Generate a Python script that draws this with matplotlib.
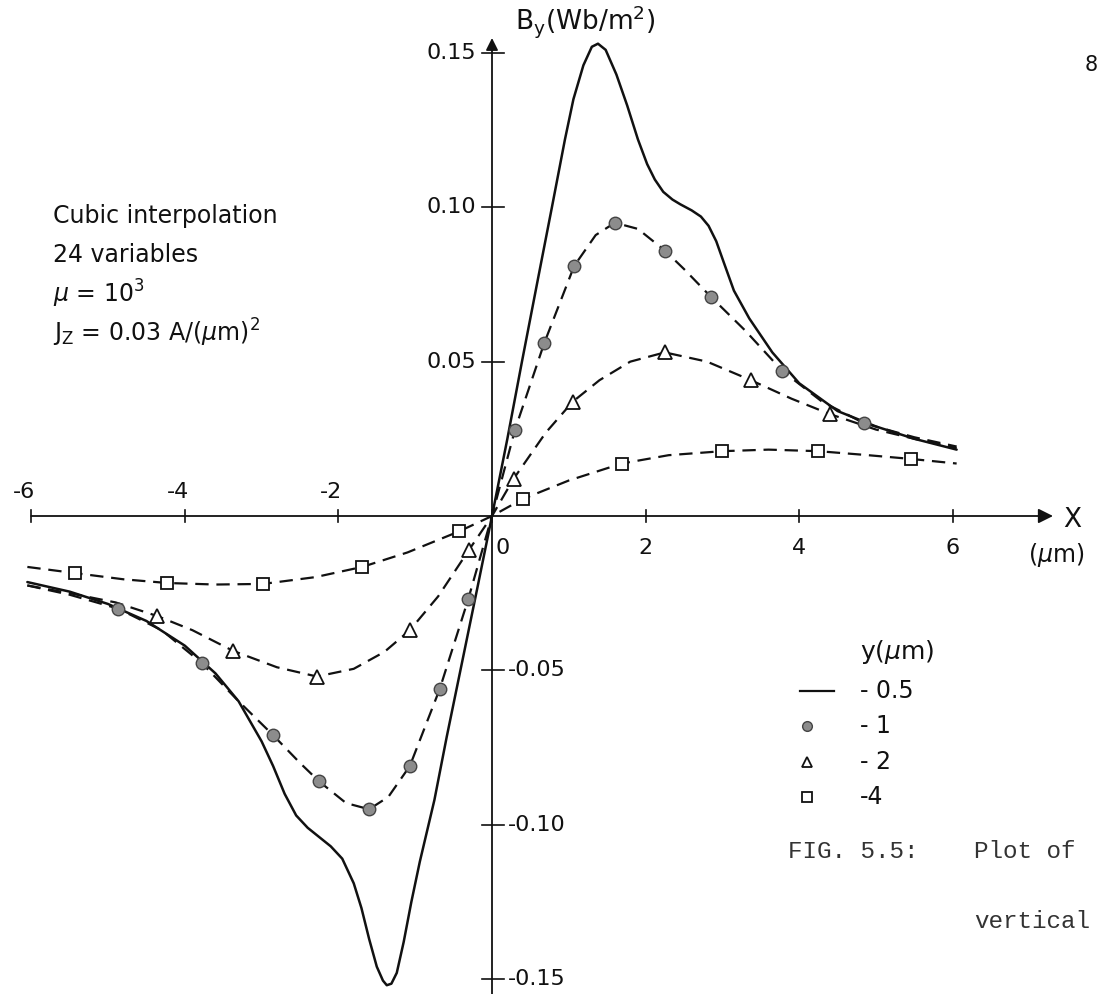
import matplotlib
matplotlib.use("Agg")
import matplotlib.pyplot as plt
import numpy as np

# ---------------- data ----------------
# y = -0.5 um (solid line)
x_05 = [-6.05, -5.5, -5.0, -4.5, -4.0, -3.6, -3.3, -3.0, -2.85, -2.7, -2.55, -2.4, -2.25, -2.1,
        -1.95, -1.8, -1.7, -1.6, -1.5, -1.42, -1.37, -1.31, -1.24, -1.15, -1.05, -0.94, -0.75,
        -0.59, -0.37, -0.18, 0.0,
        0.2, 0.39, 0.6, 0.78, 0.95, 1.06, 1.19, 1.3, 1.38, 1.48, 1.62, 1.76, 1.9, 2.02, 2.12,
        2.23, 2.35, 2.45, 2.6, 2.72, 2.82, 2.92, 3.02, 3.15, 3.35, 3.65, 4.0, 4.5, 5.0, 5.5,
        6.05]
b_05 = [-0.0214, -0.0245, -0.0285, -0.034, -0.042, -0.051, -0.060, -0.073, -0.081, -0.090,
        -0.097, -0.101, -0.104, -0.107, -0.111, -0.119, -0.127, -0.137, -0.146, -0.1505,
        -0.152, -0.1515, -0.148, -0.138, -0.125, -0.112, -0.092,
        -0.0716, -0.045, -0.022, 0.0,
        0.025, 0.05, 0.077, 0.100, 0.122, 0.135, 0.146, 0.152, 0.153, 0.151, 0.143, 0.133,
        0.122, 0.114, 0.109, 0.105, 0.1025, 0.101, 0.099, 0.097, 0.094, 0.089, 0.082, 0.073,
        0.064, 0.053, 0.043, 0.034, 0.029, 0.025, 0.0215]

# y = -1 um (dashed, filled circles)
x_1 = [-6.05, -5.5, -4.87, -4.3, -3.78, -3.3, -2.85, -2.5, -2.25, -1.9, -1.6, -1.35, -1.07,
       -0.68, -0.31, 0.0, 0.30, 0.68, 1.07, 1.35, 1.6, 1.9, 2.25, 2.5, 2.85, 3.3, 3.78, 4.3,
       4.85, 5.5, 6.05]
b_1 = [-0.0225, -0.0255, -0.030, -0.037, -0.0476, -0.060, -0.071, -0.080, -0.086, -0.093,
       -0.095, -0.091, -0.081, -0.056, -0.027, 0.0, 0.028, 0.056, 0.081, 0.091, 0.095, 0.093,
       0.086, 0.080, 0.071, 0.060, 0.047, 0.037, 0.030, 0.0255, 0.0225]
mx_1 = [-4.87, -3.78, -2.85, -2.25, -1.6, -1.07, -0.68, -0.31,
        0.30, 0.68, 1.07, 1.6, 2.25, 2.85, 3.78, 4.85]
mb_1 = [-0.030, -0.0476, -0.071, -0.086, -0.095, -0.081, -0.056, -0.027,
        0.028, 0.056, 0.081, 0.095, 0.086, 0.071, 0.047, 0.030]

# y = -2 um (dashed, open triangles)
x_2 = [-6.05, -5.5, -4.9, -4.36, -3.9, -3.37, -2.8, -2.28, -1.8, -1.4, -1.07, -0.7, -0.30, 0.0,
       0.28, 0.7, 1.05, 1.4, 1.8, 2.25, 2.8, 3.37, 3.9, 4.4, 5.0, 5.5, 6.05]
b_2 = [-0.0225, -0.025, -0.028, -0.0324, -0.037, -0.0437, -0.049, -0.052, -0.0495, -0.044,
       -0.037, -0.026, -0.011, 0.0, 0.012, 0.027, 0.037, 0.044, 0.050, 0.053, 0.050, 0.044,
       0.038, 0.033, 0.028, 0.025, 0.022]
mx_2 = [-4.36, -3.37, -2.28, -1.07, -0.30, 0.28, 1.05, 2.25, 3.37, 4.4]
mb_2 = [-0.0324, -0.0437, -0.052, -0.037, -0.011, 0.012, 0.037, 0.053, 0.044, 0.033]

# y = -4 um (dashed, open squares)
x_4 = [-6.05, -5.43, -4.8, -4.23, -3.6, -2.98, -2.3, -1.69, -1.1, -0.43, 0.0,
       0.40, 1.0, 1.69, 2.3, 3.0, 3.6, 4.25, 4.85, 5.45, 6.05]
b_4 = [-0.0165, -0.0185, -0.0205, -0.0217, -0.0222, -0.022, -0.0198, -0.0165, -0.0118, -0.005,
       0.0, 0.0055, 0.0115, 0.017, 0.0197, 0.021, 0.0215, 0.021, 0.0198, 0.0185, 0.017]
mx_4 = [-5.43, -4.23, -2.98, -1.69, -0.43, 0.40, 1.69, 3.0, 4.25, 5.45]
mb_4 = [-0.0185, -0.0217, -0.022, -0.0165, -0.005, 0.0055, 0.017, 0.021, 0.021, 0.0185]

xticks = [-6, -4, -2, 0, 2, 4, 6]
yticks = [0.15, 0.10, 0.05, -0.05, -0.10, -0.15]
ytick_labels = ["0.15", "0.10", "0.05", "-0.05", "-0.10", "-0.15"]
legend_title = r"y($\mu$m)"
legend_labels = ["- 0.5", "- 1", "- 2", "-4"]

# ---------------- layout ----------------
W, H = 1100, 994
X0, SX = 492.0, 76.8      # pixel of x=0, pixels per unit
Y0, SY = 516.0, 3087.0    # pixel (from top) of B=0, pixels per unit

fig = plt.figure(figsize=(W / 100, H / 100), dpi=100)
ax = fig.add_axes([0, 0, 1, 1])
ax.set_xlim(-X0 / SX, (W - X0) / SX)
ax.set_ylim(-(H - Y0) / SY, Y0 / SY)
ax.axis("off")

def px(xp):
    return (xp - X0) / SX

def py(yp):
    return (Y0 - yp) / SY

sans = ["DejaVu Sans"]
ink = "#111111"
dash = (6, 3.5)

# axes
ax.annotate("", xy=(px(1053), 0), xytext=(-6.0, 0),
            arrowprops=dict(arrowstyle="-|>", lw=1.3, color=ink, mutation_scale=22,
                            shrinkA=0, shrinkB=0))
ax.annotate("", xy=(0, py(38)), xytext=(0, py(H + 5)),
            arrowprops=dict(arrowstyle="-|>", lw=1.3, color=ink, mutation_scale=18,
                            shrinkA=0, shrinkB=0))

for xt in xticks:
    ax.plot([xt, xt], [py(Y0 - 6), py(Y0 + 6)], color=ink, lw=1.2)
    if xt < 0:
        ax.text(xt - px(X0 + 7), py(492), f"-{abs(xt)}", ha="center", va="center",
                fontsize=16, family=sans, color=ink)
    else:
        ax.text(xt + (px(X0 + 11) if xt == 0 else 0), py(548), f"{xt}", ha="center",
                va="center", fontsize=16, family=sans, color=ink)

for yt, lab in zip(yticks, ytick_labels):
    ax.plot([px(X0 - 10), px(X0 + 12)], [yt, yt], color=ink, lw=1.2)
    if yt > 0:
        ax.text(px(X0 - 16), yt, lab, ha="right", va="center",
                fontsize=16, family=sans, color=ink)
    else:
        ax.text(px(X0 + 16), yt, lab, ha="left", va="center",
                fontsize=16, family=sans, color=ink)

# curves
ax.plot(x_05, b_05, color=ink, lw=1.8, solid_capstyle="round", solid_joinstyle="round")
for xs, bs in [(x_1, b_1), (x_2, b_2), (x_4, b_4)]:
    ax.plot(xs, bs, color=ink, lw=1.6, linestyle=(0, dash))

ax.plot(mx_1, mb_1, linestyle="none", marker="o", ms=9, mfc="#8c8c8c", mec="#444444", mew=1.0)
ax.plot(mx_2, mb_2, linestyle="none", marker="^", ms=10, mfc="white", mec=ink, mew=1.3)
ax.plot(mx_4, mb_4, linestyle="none", marker="s", ms=9, mfc="white", mec=ink, mew=1.3)

# axis labels
ax.text(px(515), py(22), r"B$_\mathregular{y}$(Wb/m$^\mathregular{2}$)", ha="left", va="center",
        fontsize=19, family=sans, color=ink)
ax.text(px(1063), py(520), "X", ha="left", va="center", fontsize=19, family=sans, color=ink)
ax.text(px(1028), py(555), r"($\mu$m)", ha="left", va="center", fontsize=17, family=sans,
        color=ink)

# annotation block
notes = ["Cubic interpolation", "24 variables", r"$\mu$ = 10$^\mathregular{3}$",
         r"J$_\mathregular{Z}$ = 0.03 A/($\mu$m)$^\mathregular{2}$"]
for i, t in enumerate(notes):
    ax.text(px(53), py(216 + 39 * i), t, ha="left", va="center", fontsize=17, family=sans,
            color=ink)

# legend
ax.text(px(860), py(652), legend_title, ha="left", va="center", fontsize=18, family=sans,
        color=ink)
ly = [691, 726, 762, 797]
ax.plot([px(800), px(834)], [py(ly[0]), py(ly[0])], color=ink, lw=1.6)
ax.plot([px(807)], [py(ly[1])], marker="o", ms=7, mfc="#8c8c8c", mec="#444444", mew=1.0)
ax.plot([px(807)], [py(ly[2])], marker="^", ms=7, mfc="white", mec=ink, mew=1.3)
ax.plot([px(807)], [py(ly[3])], marker="s", ms=6.5, mfc="white", mec=ink, mew=1.3)
for yy, lab in zip(ly, legend_labels):
    ax.text(px(860), py(yy), lab, ha="left", va="center", fontsize=17, family=sans, color=ink)

# caption
mono = ["Liberation Mono"]
ax.text(px(788), py(852), "FIG. 5.5:", ha="left", va="center", fontsize=17.5, family=mono,
        color="#333333")
ax.text(px(974), py(852), "Plot of", ha="left", va="center", fontsize=17.5, family=mono,
        color="#333333")
ax.text(px(974), py(922), "vertical", ha="left", va="center", fontsize=17.5, family=mono,
        color="#333333")
ax.text(px(1085), py(65), "8", ha="left", va="center", fontsize=15, family=sans, color=ink)

fig.savefig("out.png", dpi=100)
